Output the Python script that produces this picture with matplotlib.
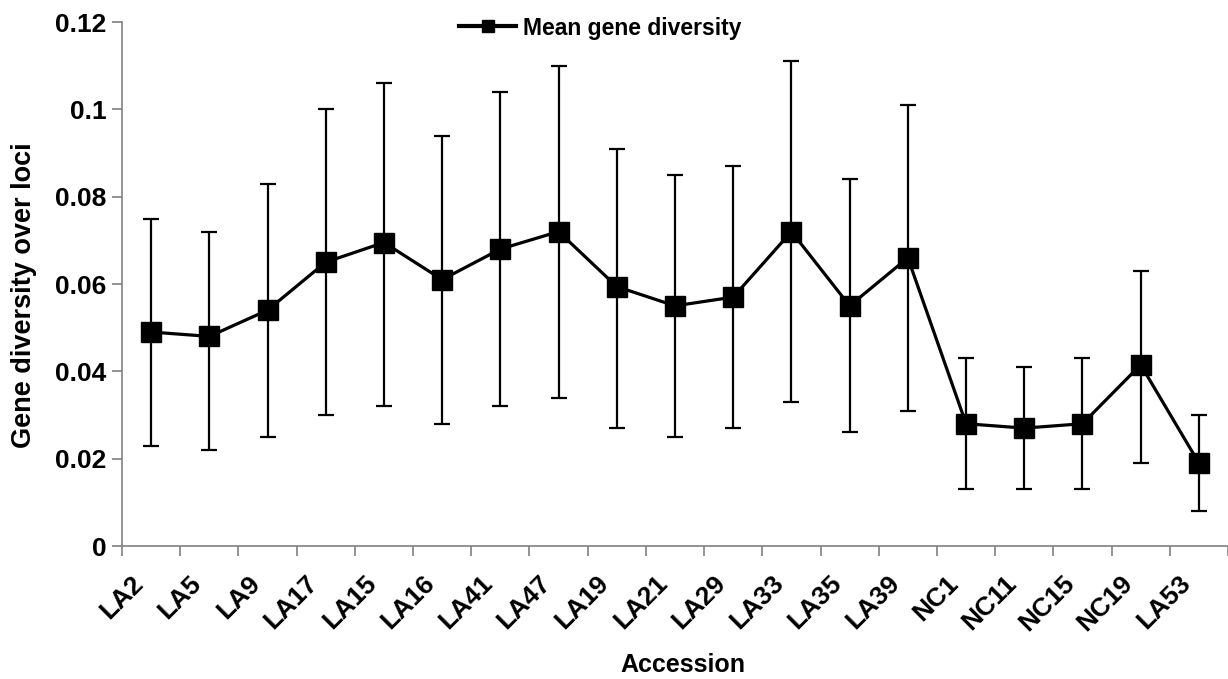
import matplotlib
matplotlib.use("Agg")
import matplotlib.pyplot as plt
import matplotlib.transforms as mtransforms
import numpy as np

categories = ["LA2", "LA5", "LA9", "LA17", "LA15", "LA16", "LA41", "LA47", "LA19",
              "LA21", "LA29", "LA33", "LA35", "LA39", "NC1", "NC11", "NC15", "NC19", "LA53"]
mean_div = [0.049, 0.048, 0.054, 0.065, 0.0695, 0.061, 0.068, 0.072, 0.0594,
            0.055, 0.057, 0.072, 0.055, 0.066, 0.028, 0.027, 0.028, 0.0415, 0.019]
upper = [0.075, 0.072, 0.083, 0.100, 0.106, 0.094, 0.104, 0.110, 0.091,
         0.085, 0.087, 0.111, 0.084, 0.101, 0.043, 0.041, 0.043, 0.063, 0.030]
lower = [0.023, 0.022, 0.025, 0.030, 0.032, 0.028, 0.032, 0.034, 0.027,
         0.025, 0.027, 0.033, 0.026, 0.031, 0.013, 0.013, 0.013, 0.019, 0.008]
yticks = [0, 0.02, 0.04, 0.06, 0.08, 0.1, 0.12]
ytick_labels = ["0", "0.02", "0.04", "0.06", "0.08", "0.1", "0.12"]

plt.rcParams['font.family'] = ['Liberation Sans', 'DejaVu Sans']
plt.rcParams['font.weight'] = 'bold'

W, H = 1228, 679
fig = plt.figure(figsize=(W / 100, H / 100), dpi=100)
left, right, top, bottom = 122, 1228, 22, 546
cat_px = 59.04
ax = fig.add_axes([left / W, 1 - bottom / H, (right - left) / W, (bottom - top) / H])

x = np.arange(len(categories))
m = np.array(mean_div)
yerr = np.vstack([m - np.array(lower), np.array(upper) - m])

ax.errorbar(x, m, yerr=yerr, fmt='none', ecolor='black', elinewidth=1.6,
            capsize=5.5, capthick=1.6, zorder=2)
ax.plot(x, m, color='black', linewidth=2.3, marker='s', markersize=14,
        label='Mean gene diversity', zorder=3)

ax.set_xlim(-0.5, -0.5 + (right - left) / cat_px)
ax.set_ylim(0, 0.12)

ax.set_yticks(yticks)
ax.set_yticklabels(ytick_labels)
ax.set_xticks(x)
ax.set_xticklabels(categories, rotation=45, ha='right', va='top', rotation_mode='anchor')
ax.set_xticks(np.arange(-0.5, len(categories) - 0.4, 1.0), minor=True)
ax.tick_params(axis='x', which='major', length=0, pad=18, labelsize=19)
ax.tick_params(axis='x', which='minor', length=7, width=1.2, color='#808080', direction='out')
ax.tick_params(axis='y', length=7, width=1.2, color='#808080', direction='out', pad=4, labelsize=19)

offset = mtransforms.ScaledTranslation(-20 / 100, 0, fig.dpi_scale_trans)
for lbl in ax.get_xticklabels():
    lbl.set_fontweight('bold')
    lbl.set_transform(lbl.get_transform() + offset)
for lbl in ax.get_yticklabels():
    lbl.set_fontweight('bold')

for s in ['top', 'right']:
    ax.spines[s].set_visible(False)
for s in ['left', 'bottom']:
    ax.spines[s].set_color('#808080')
    ax.spines[s].set_linewidth(1.2)

ax.set_ylabel('Gene diversity over loci', fontsize=19.5, fontweight='bold')
ax.yaxis.set_label_coords(37 / W, 1 - 295 / H, transform=fig.transFigure)

fig.text(683 / W, 1 - 665 / H, 'Accession', fontsize=18, fontweight='bold',
         ha='center', va='center')

leg = fig.legend(loc='center left', bbox_to_anchor=(459 / W, 1 - 28 / H), frameon=False,
                 borderpad=0, borderaxespad=0, handlelength=2.5, handletextpad=0.3,
                 prop={'size': 16.5, 'weight': 'bold'}, markerscale=0.6)
for h in leg.get_lines():
    h.set_linewidth(3)

fig.savefig('out.png', dpi=100)
